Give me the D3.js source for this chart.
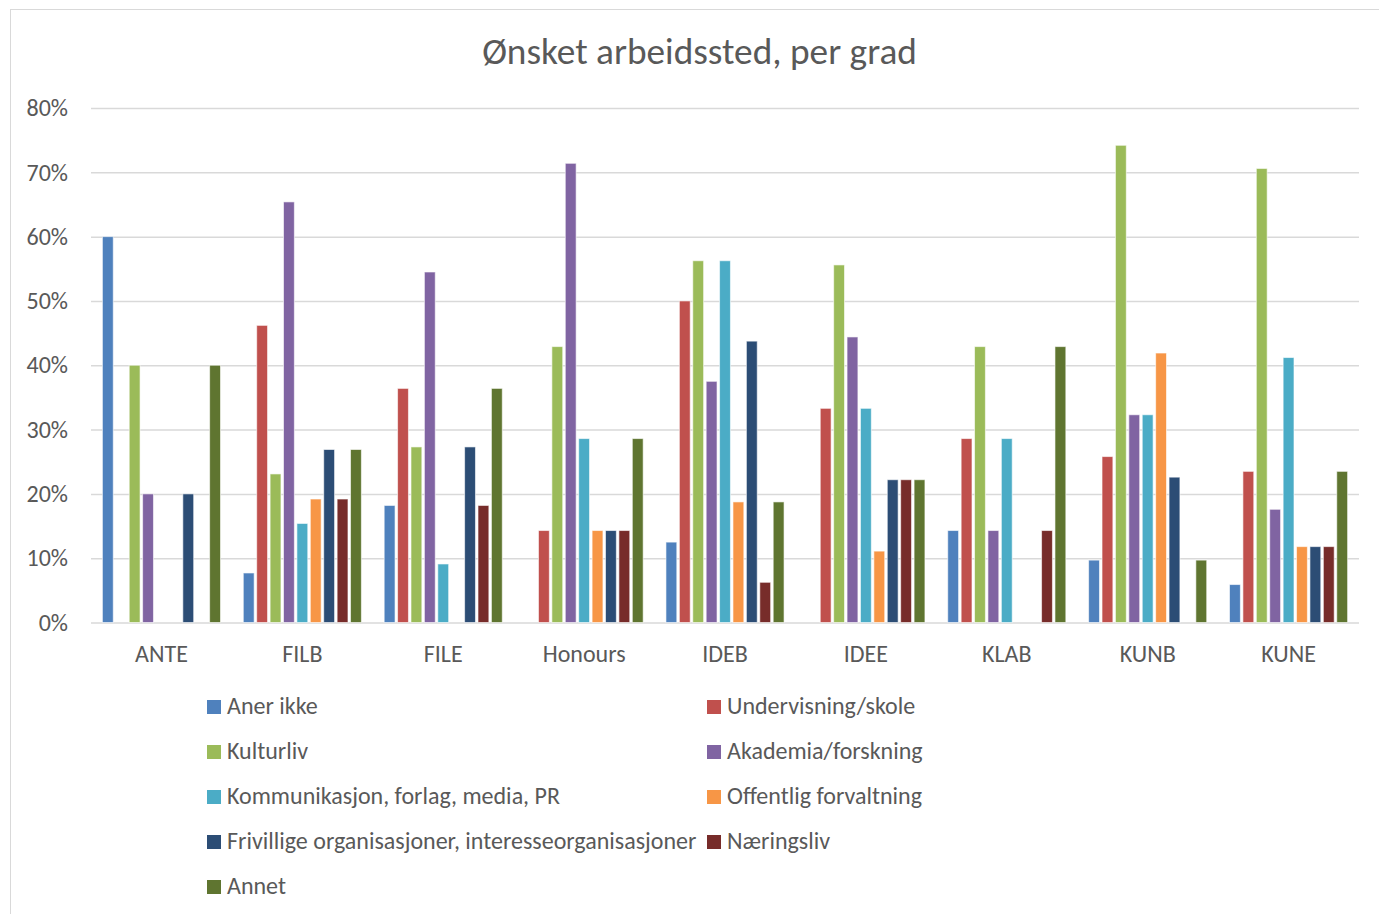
<!DOCTYPE html>
<html><head><meta charset="utf-8">
<script src="https://cdn.jsdelivr.net/npm/d3@7"></script>
<style>
html,body{margin:0;padding:0;background:#fff;}
svg{display:block;font-family:Carlito,"Open Sans",Lato,sans-serif;}
</style></head>
<body>
<svg id="c" width="1379" height="914"></svg>
<script>
const categories = ["ANTE","FILB","FILE","Honours","IDEB","IDEE","KLAB","KUNB","KUNE"];
const seriesNames = ["Aner ikke","Undervisning/skole","Kulturliv","Akademia/forskning","Kommunikasjon, forlag, media, PR","Offentlig forvaltning","Frivillige organisasjoner, interesseorganisasjoner","Næringsliv","Annet"];
const seriesColors = ["#4F81BD","#C0504D","#9BBB59","#8064A2","#4BACC6","#F79646","#2C4D75","#772C2A","#5F7530"];
// values per series (in %), ordered as categories
const anerIkke      = [60, 7.7, 18.2, 0, 12.5, 0, 14.3, 9.7, 5.9];
const undervisning  = [0, 46.2, 36.4, 14.3, 50, 33.3, 28.6, 25.8, 23.5];
const kulturliv     = [40, 23.1, 27.3, 42.9, 56.25, 55.6, 42.9, 74.2, 70.6];
const akademia      = [20, 65.4, 54.5, 71.4, 37.5, 44.4, 14.3, 32.3, 17.6];
const kommunikasjon = [0, 15.4, 9.1, 28.6, 56.25, 33.3, 28.6, 32.3, 41.2];
const offentlig     = [0, 19.2, 0, 14.3, 18.75, 11.1, 0, 41.9, 11.8];
const frivillige    = [20, 26.9, 27.3, 14.3, 43.75, 22.2, 0, 22.6, 11.8];
const naeringsliv   = [0, 19.2, 18.2, 14.3, 6.25, 22.2, 14.3, 0, 11.8];
const annet         = [40, 26.9, 36.4, 28.6, 18.75, 22.2, 42.9, 9.7, 23.5];
const yTicks = [0,10,20,30,40,50,60,70,80];
const title = "Ønsket arbeidssted, per grad";

const seriesValues = [anerIkke, undervisning, kulturliv, akademia, kommunikasjon, offentlig, frivillige, naeringsliv, annet];

const svg = d3.select("#c");
const textColor = "#595959";

// chart frame
svg.append("rect").attr("x",10.5).attr("y",9.5).attr("width",1400).attr("height",1000)
  .attr("fill","none").attr("stroke","#d9d9d9").attr("stroke-width",1);

const x0 = d3.scaleBand().domain(categories).range([91,1359]).paddingInner(0).paddingOuter(0);
const x1 = d3.scaleBand().domain(d3.range(seriesNames.length)).range([0,x0.bandwidth()]).paddingInner(0.19).paddingOuter(0.85);
const y = d3.scaleLinear().domain([0,80]).range([622.5,108]);

// gridlines + y labels
const gy = svg.append("g").attr("transform","translate(91,0)")
  .call(d3.axisLeft(y).tickValues(yTicks).tickSize(-(1359-91)).tickFormat(d=>d+"%").tickPadding(23));
gy.attr("font-family",null).attr("font-size",null);
gy.select(".domain").remove();
gy.selectAll(".tick line").attr("stroke","#d9d9d9").attr("stroke-width",1.5);
gy.selectAll(".tick text").attr("fill",textColor).style("font-size","24px");

// bars
const groups = svg.append("g").selectAll("g").data(categories).join("g")
  .attr("transform",d=>`translate(${x0(d)},0)`);
groups.selectAll("rect").data((c,ci)=>seriesValues.map((vals,si)=>({si,v:vals[ci]})).filter(d=>d.v>0))
  .join("rect")
  .attr("x",d=>x1(d.si)).attr("width",x1.bandwidth())
  .attr("y",d=>y(d.v)).attr("height",d=>y(0)-y(d.v))
  .attr("fill",d=>seriesColors[d.si])
  .attr("stroke","#ffffff").attr("stroke-opacity",0.6).attr("stroke-width",1);

// x axis labels
const gx = svg.append("g").attr("transform",`translate(0,${y(0)})`)
  .call(d3.axisBottom(x0).tickSize(0).tickPadding(22));
gx.attr("font-family",null).attr("font-size",null);
gx.select(".domain").remove();
gx.selectAll(".tick text").attr("fill",textColor).style("font-size","24px");

// title
svg.append("text").attr("x",699.5).attr("y",64).attr("text-anchor","middle")
  .attr("fill",textColor).style("font-size","37.3px").text(title);

// legend
const legCols = [207, 707];
const legRows = [714, 759, 804, 849, 894];
const leg = svg.append("g").selectAll("g").data(seriesNames).join("g")
  .attr("transform",(d,i)=>`translate(${legCols[i%2]},${legRows[Math.floor(i/2)]})`);
leg.append("rect").attr("x",0).attr("y",-14).attr("width",14).attr("height",14).attr("fill",(d,i)=>seriesColors[i]);
leg.append("text").attr("x",20).attr("y",0).attr("fill",textColor).style("font-size","24px").text(d=>d);
</script>
</body></html>
